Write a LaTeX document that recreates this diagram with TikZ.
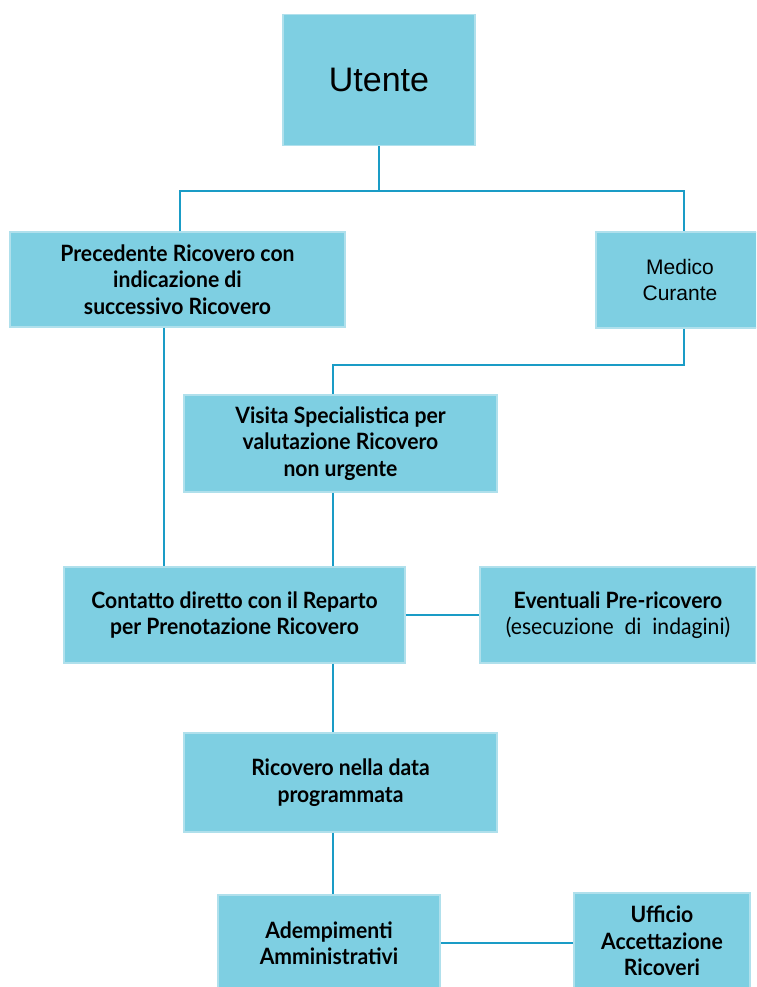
\documentclass[tikz,border=0pt]{standalone}
\usepackage{fontspec}
\setmainfont{Liberation Sans}
\newfontfamily\condb[FakeStretch=0.94]{Lato}
\definecolor{boxfill}{HTML}{7ECFE2}
\definecolor{boxline}{HTML}{B0E0EC}
\definecolor{conn}{HTML}{1A9CC6}
\tikzset{
  box/.style={draw=boxline, line width=1.5pt, fill=boxfill, align=center, inner sep=0pt, text=black},
  bx/.style={box, font=\condb\bfseries\fontsize{22.5}{26.5}\selectfont},
  link/.style={draw=conn, line width=2pt}
}
\begin{document}
\begin{tikzpicture}[x=1pt,y=-1pt]
\useasboundingbox (0,0) rectangle (756,987);
\clip (0,0) rectangle (756,987);
\fill[white] (0,0) rectangle (756,987);
\node[box, minimum width=192pt, minimum height=131pt, font=\fontsize{34}{40}\selectfont] (utente) at (379,80) {Utente};
\node[bx, minimum width=335pt, minimum height=95pt] (prec) at (177.5,279.5) {Precedente Ricovero con\\indicazione di\\successivo Ricovero};
\node[box, minimum width=168pt, minimum height=96pt, font=\fontsize{21}{26}\selectfont] (medico) at (680,280) {Medico\\Curante};
\node[bx, minimum width=313pt, minimum height=97pt] (visita) at (340.5,443.5) {Visita Specialistica per\\valutazione Ricovero\\non urgente};
\node[bx, minimum width=341pt, minimum height=96pt] (contatto) at (234.5,615) {Contatto diretto con il Reparto\\per Prenotazione Ricovero};
\node[bx, minimum width=276pt, minimum height=96pt] (eventuali) at (618,615) {Eventuali Pre-ricovero\\{\mdseries (esecuzione\ \ di\ \ indagini)}};
\node[bx, minimum width=313pt, minimum height=99pt] (ricovero) at (340.5,782.5) {Ricovero nella data\\programmata};
\node[bx, minimum width=222pt, minimum height=96pt] (adempimenti) at (329,943) {Adempimenti\\Amministrativi};
\node[bx, minimum width=176pt, minimum height=96pt] (ufficio) at (662,941) {Ufficio\\Accettazione\\Ricoveri};
\coordinate (jc) at (379,191);
\coordinate (jl) at (180,191);
\coordinate (jr) at (684,191);
\coordinate (m1) at (684,365);
\coordinate (m2) at (333,365);
\coordinate (p1) at (164,400);
\draw[link] (utente.south) -- (jc);
\draw[link] (jl |- prec.north) -- (jl) -- (jr) -- (jr |- medico.north);
\draw[link] (m1 |- medico.south) -- (m1) -- (m2) -- (m2 |- visita.north);
\draw[link] (p1 |- prec.south) -- (p1 |- contatto.north);
\draw[link] (m2 |- visita.south) -- (m2 |- contatto.north);
\draw[link] (contatto.east) -- (eventuali.west);
\draw[link] (m2 |- contatto.south) -- (m2 |- ricovero.north);
\draw[link] (m2 |- ricovero.south) -- (m2 |- adempimenti.north);
\draw[link] (adempimenti.east) -- (adempimenti.east -| ufficio.west);
\end{tikzpicture}
\end{document}
